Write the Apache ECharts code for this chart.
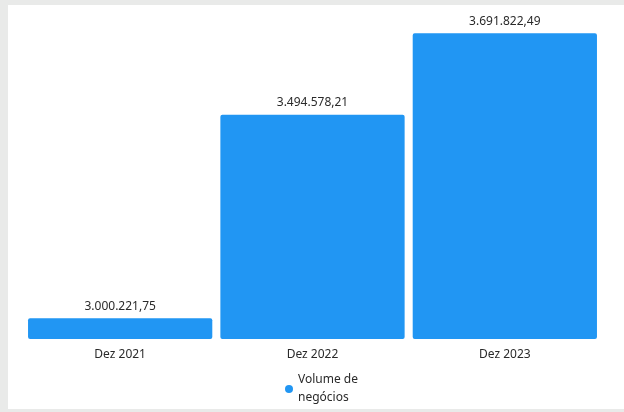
<!DOCTYPE html>
<html>
<head>
<meta charset="utf-8">
<script src="https://cdn.jsdelivr.net/npm/echarts@6/dist/echarts.min.js"></script>
<style>
  html, body { margin: 0; padding: 0; width: 624px; height: 412px; background: #e9eae9; overflow: hidden; }
  #panel { position: absolute; left: 8px; top: 5px; width: 616px; height: 404px; background: #ffffff; }
  #chart { width: 616px; height: 404px; }
</style>
</head>
<body>
<div id="panel"><div id="chart"></div></div>
<script>
// Volume de negócios por período
const categories = ['Dez 2021', 'Dez 2022', 'Dez 2023'];
const seriesName = 'Volume de negócios';
const volumeValues = [3000221.75, 3494578.21, 3691822.49];

const fmtBR = v => v.toLocaleString('pt-BR', { minimumFractionDigits: 2, maximumFractionDigits: 2 });

const chart = echarts.init(document.getElementById('chart'), null, { renderer: 'canvas' });
chart.setOption({
  animation: false,
  textStyle: { fontFamily: 'Noto Sans' },
  grid: { left: 16, right: 23, top: 25, bottom: 70 },
  xAxis: {
    type: 'category',
    data: categories,
    axisLine: { show: false },
    axisTick: { show: false },
    axisLabel: { color: '#2a2a2a', fontSize: 12, margin: 10, fontFamily: 'Noto Sans' }
  },
  yAxis: {
    type: 'value',
    min: 2950000,
    max: 3700000,
    show: false,
    splitLine: { show: false }
  },
  legend: {
    bottom: -3,
    left: 272,
    icon: 'circle',
    itemWidth: 8,
    itemHeight: 8,
    itemGap: 6,
    formatter: () => 'Volume de\nnegócios',
    textStyle: { color: '#2a2a2a', fontSize: 12, lineHeight: 18, fontFamily: 'Noto Sans' }
  },
  series: [{
    name: seriesName,
    type: 'bar',
    data: volumeValues,
    barCategoryGap: '4.2%',
    itemStyle: { color: '#2196f3', borderRadius: 2 },
    label: {
      show: true,
      position: 'top',
      distance: 6,
      color: '#2a2a2a',
      fontSize: 12,
      fontFamily: 'Noto Sans',
      formatter: p => fmtBR(p.value)
    }
  }]
});
</script>
</body>
</html>
